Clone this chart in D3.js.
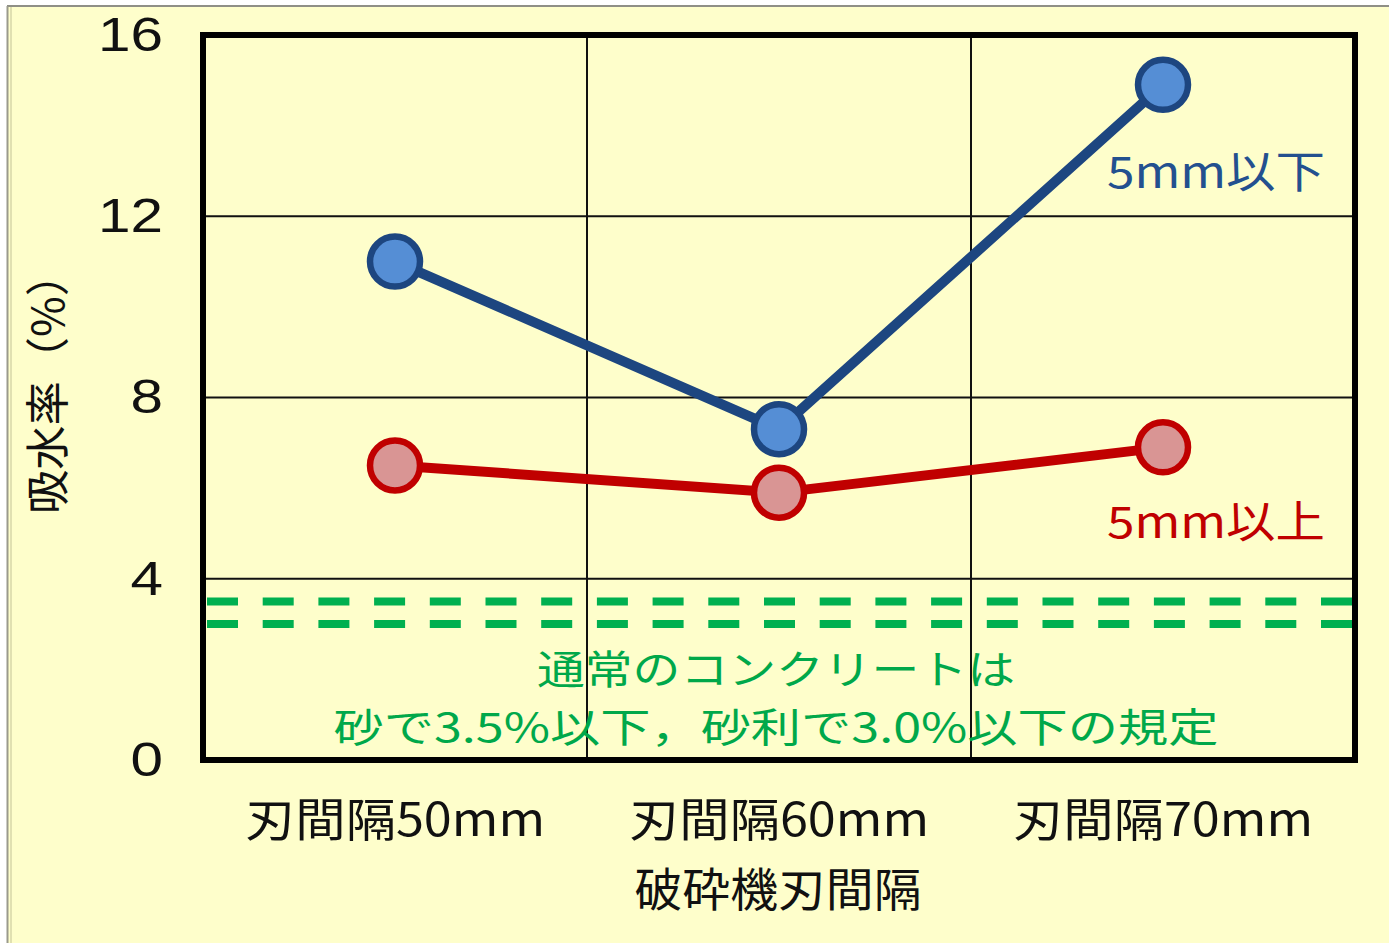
<!DOCTYPE html>
<html>
<head>
<meta charset="utf-8">
<script src="https://cdn.jsdelivr.net/npm/d3@7"></script>
<style>
  html, body { margin: 0; padding: 0; background: #ffffff; }
  svg { display: block; }
</style>
</head>
<body>
<svg id="chart" width="1389" height="943"></svg>
<script>
// Blade spacing of the crusher (categories)
const categories = ["刃間隔50mm", "刃間隔60mm", "刃間隔70mm"];
// Water absorption (%) of recycled aggregate
const below5mm = [11.0, 7.3, 14.9];   // 5mm以下
const above5mm = [6.5, 5.9, 6.9];     // 5mm以上
// Standard limits for ordinary concrete: sand 3.5 %, gravel 3.0 %
const limits = [3.5, 3.0];
const yTicks = [0, 4, 8, 12, 16];

const JP = "'Noto Sans CJK JP', 'Noto Sans', sans-serif";
const svg = d3.select("#chart");
const W = 1389, H = 943;
const plot = { left: 203, right: 1355, top: 35, bottom: 760 };

// panel background and border
svg.append("rect").attr("x", 0).attr("y", 0).attr("width", W).attr("height", H).attr("fill", "#ffffff");
svg.append("rect").attr("x", 8).attr("y", 6).attr("width", W - 8).attr("height", H - 6).attr("fill", "#fefecb");
svg.append("line").attr("x1", 7).attr("x2", W).attr("y1", 6).attr("y2", 6).attr("stroke", "#8f8f86").attr("stroke-width", 2);
svg.append("line").attr("x1", 7.5).attr("x2", 7.5).attr("y1", 6).attr("y2", H).attr("stroke", "#9a9a8c").attr("stroke-width", 2);
svg.append("line").attr("x1", 11).attr("x2", 11).attr("y1", 7).attr("y2", H).attr("stroke", "#d6d6a8").attr("stroke-width", 1.5);

const x = d3.scaleBand().domain(categories).range([plot.left, plot.right]).padding(0);
const y = d3.scaleLinear().domain([0, 16]).range([plot.bottom, plot.top]);

// horizontal gridlines
svg.append("g").selectAll("line").data(yTicks.filter(d => d > 0 && d < 16)).join("line")
  .attr("x1", plot.left).attr("x2", plot.right)
  .attr("y1", d => y(d)).attr("y2", d => y(d))
  .attr("stroke", "#111").attr("stroke-width", 2);

// vertical gridlines between categories
svg.append("g").selectAll("line").data(categories.slice(1)).join("line")
  .attr("x1", d => x(d)).attr("x2", d => x(d))
  .attr("y1", plot.top).attr("y2", plot.bottom)
  .attr("stroke", "#111").attr("stroke-width", 2);

// regulation limits (dashed)
svg.append("g").selectAll("line").data(limits).join("line")
  .attr("x1", plot.left + 4).attr("x2", plot.right - 2)
  .attr("y1", d => y(d)).attr("y2", d => y(d))
  .attr("stroke", "#00b050").attr("stroke-width", 8)
  .attr("stroke-dasharray", "31,24.7");

// plot frame
svg.append("rect")
  .attr("x", plot.left).attr("y", plot.top)
  .attr("width", plot.right - plot.left).attr("height", plot.bottom - plot.top)
  .attr("fill", "none").attr("stroke", "#000").attr("stroke-width", 6);

// y axis tick labels
const yAxis = d3.axisLeft(y).tickValues(yTicks).tickSize(0).tickPadding(40);
const gy = svg.append("g").attr("transform", `translate(${plot.left},0)`).call(yAxis);
gy.select(".domain").remove();
gy.selectAll("text")
  .style("font-family", "'Liberation Sans', 'DejaVu Sans', sans-serif")
  .style("font-size", "48px").attr("fill", "#111")
  .attr("textLength", d => String(d).length * 32.5)
  .attr("lengthAdjust", "spacingAndGlyphs");

// x axis tick labels
const xAxis = d3.axisBottom(x).tickSize(0).tickPadding(0);
const gx = svg.append("g").attr("transform", `translate(0,${plot.bottom})`).call(xAxis);
gx.select(".domain").remove();
gx.selectAll("text")
  .style("font-family", JP).style("font-size", "46px").attr("fill", "#111")
  .attr("dy", null).attr("y", 76)
  .attr("textLength", 300).attr("lengthAdjust", "spacingAndGlyphs");

// axis titles
svg.append("text")
  .attr("x", 778).attr("y", 906)
  .attr("text-anchor", "middle")
  .style("font-family", JP).style("font-size", "46px").attr("fill", "#111")
  .attr("textLength", 287).attr("lengthAdjust", "spacingAndGlyphs")
  .text("破砕機刃間隔");

svg.append("text")
  .attr("transform", "translate(64,383) rotate(-90)")
  .attr("text-anchor", "middle")
  .style("font-family", JP).style("font-size", "44px").attr("fill", "#111")
  .attr("textLength", 262).attr("lengthAdjust", "spacingAndGlyphs")
  .text("吸水率（%）");

// series lines and markers
const series = [
  { name: "5mm以下", values: below5mm, stroke: "#1d4680", fill: "#558ed5", labelColor: "#23508f", labelY: 188 },
  { name: "5mm以上", values: above5mm, stroke: "#c00000", fill: "#d99594", labelColor: "#c00000", labelY: 538 }
];
const cx = (i) => x(categories[i]) + x.bandwidth() / 2;
const line = d3.line().x((d, i) => cx(i)).y(d => y(d));

series.forEach(s => {
  svg.append("path").datum(s.values)
    .attr("d", line).attr("fill", "none")
    .attr("stroke", s.stroke).attr("stroke-width", 10).attr("stroke-linejoin", "round");
  svg.append("g").selectAll("circle").data(s.values).join("circle")
    .attr("cx", (d, i) => cx(i)).attr("cy", d => y(d)).attr("r", 25)
    .attr("fill", s.fill).attr("stroke", s.stroke).attr("stroke-width", 6.5);
  svg.append("text")
    .attr("x", 1107).attr("y", s.labelY)
    .style("font-family", JP).style("font-size", "44px").attr("fill", s.labelColor)
    .attr("textLength", 218).attr("lengthAdjust", "spacingAndGlyphs")
    .text(s.name);
});

// annotation about the standard limits
svg.append("text")
  .attr("x", 776).attr("y", 684)
  .attr("text-anchor", "middle")
  .style("font-family", JP).style("font-size", "40px").attr("fill", "#00a84a")
  .attr("textLength", 478).attr("lengthAdjust", "spacingAndGlyphs")
  .text("通常のコンクリートは");
svg.append("text")
  .attr("x", 776).attr("y", 742)
  .attr("text-anchor", "middle")
  .style("font-family", JP).style("font-size", "40px").attr("fill", "#00a84a")
  .attr("textLength", 885).attr("lengthAdjust", "spacingAndGlyphs")
  .text("砂で3.5%以下，砂利で3.0%以下の規定");
</script>
</body>
</html>
